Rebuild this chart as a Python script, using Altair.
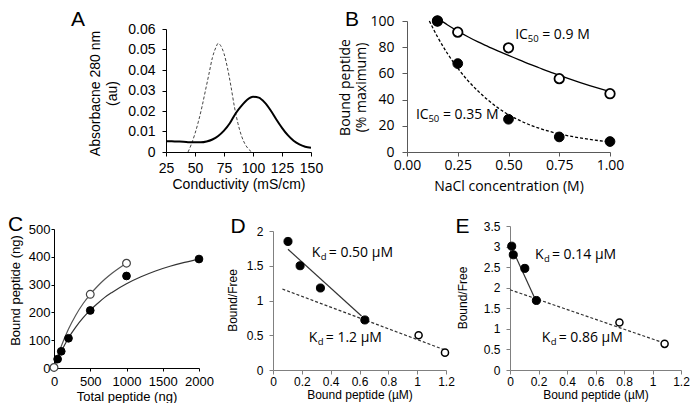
import altair as alt
import pandas as pd

# ---------------- data ----------------
# Panel A: chromatogram traces
a_dash_x = [44, 47, 50, 53, 56, 59, 62, 65, 68, 70, 72, 75, 78, 81, 84, 87, 90, 93, 96, 99]
a_dash_y = [0.0, 0.004, 0.009, 0.015, 0.022, 0.030, 0.038, 0.046, 0.051, 0.053, 0.052, 0.048,
            0.041, 0.032, 0.022, 0.014, 0.008, 0.004, 0.0015, 0.0]
a_sol_x = [25, 30, 35, 40, 45, 50, 55, 60, 65, 70, 75, 80, 85, 90, 95, 100, 105, 110, 115, 120,
           125, 130, 135, 140, 145, 150]
a_sol_y = [0.0053, 0.0052, 0.0051, 0.0050, 0.0048, 0.0047, 0.0047, 0.0051, 0.0061, 0.0078, 0.0104,
           0.0140, 0.0188, 0.0225, 0.0255, 0.0270, 0.0265, 0.0242, 0.0205, 0.0160, 0.0118, 0.0082,
           0.0055, 0.0037, 0.0026, 0.0021]
a_xticks = [25, 50, 75, 100, 125, 150]
a_yticks = [0, 0.01, 0.02, 0.03, 0.04, 0.05, 0.06]

# Panel B: NaCl competition
b_conc = [0.15, 0.25, 0.5, 0.75, 1.0]
b_open = [100, 91.5, 79.5, 56, 44.5]
b_filled = [100, 67.5, 25, 11.5, 8]
b_fo_x = [0.15, 0.2, 0.25, 0.3, 0.35, 0.4, 0.45, 0.5, 0.55, 0.6, 0.65, 0.7, 0.75, 0.8, 0.85, 0.9, 0.95, 1.0]
b_fo_y = [102, 97, 92.3, 88, 84, 80.5, 77, 73.8, 70.5, 67.3, 64.3, 61.3, 58.5, 55.8, 53.2, 50.7, 48.3, 46]
b_ff_x = [0.11, 0.15, 0.2, 0.25, 0.3, 0.35, 0.4, 0.45, 0.5, 0.55, 0.6, 0.65, 0.7, 0.75, 0.8, 0.85, 0.9, 0.95, 1.0]
b_ff_y = [100, 88, 75, 64, 54.5, 46.5, 39.5, 33.5, 28.5, 24.5, 21, 18.2, 15.8, 13.8, 12.2, 10.8, 9.6, 8.6, 7.8]
b_xticks = [0, 0.25, 0.5, 0.75, 1.0]
b_yticks = [0, 20, 40, 60, 80, 100]
b_ann_x = [0.533, 0.044]
b_ann_y = [89.3, 28.1]
b_ann_rest = ["= 0.9 M", "= 0.35 M"]

# Panel C: saturation binding
c_f_x = [50, 100, 200, 500, 1000, 2000]
c_f_y = [32, 60, 107, 207, 331, 392]
c_o_x = [0, 500, 1000]
c_o_y = [2, 265, 377]
c_fitf_x = [0, 50, 100, 200, 300, 400, 500, 600, 700, 800, 1000, 1200, 1400, 1600, 1800, 2000]
c_fitf_y = [0, 31, 59, 108, 147, 180, 208, 232, 254, 272, 303, 328, 349, 366, 380, 392]
c_fito_x = [0, 50, 100, 200, 300, 400, 500, 600, 700, 800, 900, 1000]
c_fito_y = [0, 42, 78, 140, 190, 231, 265, 294, 319, 341, 360, 377]
c_xticks = [0, 500, 1000, 1500, 2000]
c_yticks = [0, 100, 200, 300, 400, 500]

# Panel D: Scatchard
d_f_x = [0.104, 0.188, 0.329, 0.637]
d_f_y = [1.85, 1.50, 1.18, 0.72]
d_o_x = [1.01, 1.193]
d_o_y = [0.50, 0.25]
d_sol_x = [0.104, 0.614]
d_sol_y = [1.737, 0.777]
d_dash_x = [0.065, 1.193]
d_dash_y = [1.165, 0.288]
d_xticks = [0, 0.2, 0.4, 0.6, 0.8, 1.0, 1.2]
d_yticks = [0, 0.5, 1.0, 1.5, 2.0]
d_ann_x = [0.269, 0.248]
d_ann_y = [1.68, 0.46]
d_ann_rest = ["= 0.50 µM", "= 1.2 µM"]

# Panel E: Scatchard
e_f_x = [0.012, 0.023, 0.104, 0.185]
e_f_y = [3.01, 2.80, 2.47, 1.69]
e_o_x = [0.768, 1.085]
e_o_y = [1.156, 0.635]
e_sol_x = [0.012, 0.173]
e_sol_y = [2.97, 1.75]
e_dash_x = [0.0, 1.085]
e_dash_y = [1.95, 0.651]
e_xticks = [0, 0.2, 0.4, 0.6, 0.8, 1.0, 1.2]
e_yticks = [0, 0.5, 1.0, 1.5, 2.0, 2.5, 3.0, 3.5]
e_ann_x = [0.175, 0.222]
e_ann_y = [2.80, 0.77]
e_ann_rest = ["= 0.14 µM", "= 0.86 µM"]

ARIAL = "Liberation Sans"
SEGOE = "Open Sans"

# uniform grid of cells; each panel places its plot area inside its cell through scale ranges
W, H = 225, 195
G0X, G0Y = 8, 8


def geom(left, top, w, h, r, c):
    ox, oy = G0X + c * W, G0Y + r * H
    return dict(ox=ox, oy=oy, lx=left - ox, ty=top - oy, by=top - oy + h, w=w, h=h)


def df(x, y):
    return pd.DataFrame({"x": x, "y": y})


def xenc(g, domain, values, fmt, font, size, color, tick, lpad, title, tsize, ty):
    ax = alt.Axis(values=values, format=fmt, title=title, labelFont=font, labelFontSize=size,
                  labelColor="black", labelPadding=lpad, tickSize=tick, tickColor=color,
                  domainColor=color, grid=False, labelFlush=False, labelOverlap=False,
                  titleFont=font, titleFontSize=tsize, titleFontWeight="normal", titleColor="black",
                  titleX=g["lx"] + g["w"] / 2, titleY=ty, titleAlign="center", titleBaseline="top",
                  titleAngle=0, orient="bottom", offset=g["by"] - H)
    sc = alt.Scale(domain=domain, nice=False, zero=False, range=[g["lx"], g["lx"] + g["w"]])
    return alt.X("x:Q", scale=sc, axis=ax)


def yenc(g, domain, values, fmt, font, size, color, tick, lpad, title, tsize, tx, ty, lh=16):
    ax = alt.Axis(values=values, format=fmt, title=title, labelFont=font, labelFontSize=size,
                  labelColor="black", labelPadding=lpad, tickSize=tick, tickColor=color,
                  domainColor=color, grid=False, labelFlush=False, labelOverlap=False,
                  titleFont=font, titleFontSize=tsize, titleFontWeight="normal", titleColor="black",
                  titleX=tx, titleY=g["ty"] + ty, titleAlign="center", titleBaseline="bottom",
                  titleAngle=270, titleLineHeight=lh, orient="left", offset=-g["lx"])
    sc = alt.Scale(domain=domain, nice=False, zero=False, range=[g["by"], g["ty"]])
    return alt.Y("y:Q", scale=sc, axis=ax)


def plabel(t, g, page_x, page_y):
    return alt.Chart(pd.DataFrame({"t": [t]})).mark_text(
        align="left", baseline="top", font=ARIAL, fontSize=21, color="black"
    ).encode(x=alt.value(page_x - g["ox"]), y=alt.value(page_y - g["oy"]), text="t:N")


def anchor():
    return alt.Chart(pd.DataFrame({"v": [0]})).mark_rect(opacity=0).encode(
        x=alt.value(0), x2=alt.value(1), y=alt.value(0), y2=alt.value(1))


def ann(xs, ys, main, sub, rests, ex, ey, sub_dx, rest_dx, size=14, sub_size=9.5):
    base = pd.DataFrame({"x": xs, "y": ys, "m": [main] * len(xs), "s": [sub] * len(xs), "r": rests})
    common = dict(align="left", baseline="middle", font=SEGOE, color="black")
    l1 = alt.Chart(base).mark_text(fontSize=size, **common).encode(x=ex, y=ey, text="m:N")
    l2 = alt.Chart(base).mark_text(fontSize=sub_size, dx=sub_dx, dy=4, **common).encode(x=ex, y=ey, text="s:N")
    l3 = alt.Chart(base).mark_text(fontSize=size, dx=rest_dx, **common).encode(x=ex, y=ey, text="r:N")
    return [l1, l2, l3]


def filled_pts(x, y, ex, ey, size):
    return alt.Chart(df(x, y)).mark_point(shape="circle", filled=True, fill="black", stroke="black",
                                           strokeWidth=1, size=size, opacity=1).encode(x=ex, y=ey)


def open_pts(x, y, ex, ey, size, sw=1.5, stroke="black"):
    return alt.Chart(df(x, y)).mark_point(shape="circle", filled=True, fill="white", stroke=stroke,
                                           strokeWidth=sw, size=size, opacity=1).encode(x=ex, y=ey)


# ---------------- Panel A ----------------
gA = geom(166, 29, 145, 123, 0, 0)
axA = xenc(gA, [25, 150], a_xticks, "d", ARIAL, 14, "black", 4, 5, "Conductivity (mS/cm)", 14, 25)
ayA = yenc(gA, [0, 0.06], a_yticks, ".2~f", ARIAL, 14, "black", 4, 7,
           ["Absorbacne  280 nm", "(au)"], 14, -64, 64, 17)
panelA = alt.layer(
    anchor(),
    alt.Chart(df(a_dash_x, a_dash_y)).mark_line(color="#444444", strokeWidth=1, strokeDash=[3, 2],
                                                  interpolate="monotone").encode(x=axA, y=ayA),
    alt.Chart(df(a_sol_x, a_sol_y)).mark_line(color="black", strokeWidth=2,
                                                interpolate="monotone").encode(x=axA, y=ayA),
    plabel("A", gA, 71, 9),
).properties(width=W, height=H)

# ---------------- Panel B ----------------
gB = geom(407, 21, 203, 131, 0, 1)
axB = xenc(gB, [0, 1], b_xticks, ".2f", SEGOE, 14, "#595959", 4, 2, "NaCl concentration (M)", 14, 27)
ayB = yenc(gB, [0, 100], b_yticks, "d", SEGOE, 14, "#595959", 5, 8,
           ["Bound peptide", "(% maximum)"], 14, -55, 66, 16)
panelB = alt.layer(
    alt.Chart(df(b_fo_x, b_fo_y)).mark_line(color="black", strokeWidth=1.3,
                                              interpolate="monotone").encode(x=axB, y=ayB),
    alt.Chart(df(b_ff_x, b_ff_y)).mark_line(color="black", strokeWidth=1.3, strokeDash=[3, 2],
                                              interpolate="monotone").encode(x=axB, y=ayB),
    open_pts(b_conc, b_open, axB, ayB, 90, 1.8),
    filled_pts(b_conc, b_filled, axB, ayB, 95),
    *ann(b_ann_x, b_ann_y, "IC", "50", b_ann_rest, axB, ayB, 12.5, 27),
    plabel("B", gB, 345, 9),
).properties(width=W, height=H)

blank = alt.Chart(pd.DataFrame({"v": [0]})).mark_rect(opacity=0).encode(
    x=alt.value(0), x2=alt.value(1), y=alt.value(0), y2=alt.value(1)).properties(width=W, height=H)

# ---------------- Panel C ----------------
gC = geom(54, 229, 145, 139, 1, 0)
axC = xenc(gC, [0, 2000], c_xticks, "d", ARIAL, 13, "black", 3, 4, "Total peptide (ng)", 13, 22)
ayC = yenc(gC, [0, 500], c_yticks, "d", ARIAL, 13, "black", 3, 1, "Bound peptide (ng)", 13, -32, 61)
panelC = alt.layer(
    alt.Chart(df(c_fito_x, c_fito_y)).mark_line(color="#555555", strokeWidth=1.2,
                                                  interpolate="monotone").encode(x=axC, y=ayC),
    alt.Chart(df(c_fitf_x, c_fitf_y)).mark_line(color="#333333", strokeWidth=1.2,
                                                  interpolate="monotone").encode(x=axC, y=ayC),
    open_pts(c_o_x, c_o_y, axC, ayC, 60, 1.2, "#444444"),
    filled_pts(c_f_x, c_f_y, axC, ayC, 60),
    plabel("C", gC, 8, 213.5),
).properties(width=W, height=H)

# ---------------- Panel D ----------------
gD = geom(273, 231, 173, 139, 1, 1)
axD = xenc(gD, [0, 1.2], d_xticks, ".1~f", ARIAL, 12, "#808080", 4, 2, "Bound peptide (µM)", 12, 19)
ayD = yenc(gD, [0, 2], d_yticks, ".1~f", ARIAL, 12, "#808080", 4, 6, "Bound/Free", 12, -34, 69)
panelD = alt.layer(
    alt.Chart(df(d_sol_x, d_sol_y)).mark_line(color="#333333", strokeWidth=1.2).encode(x=axD, y=ayD),
    alt.Chart(df(d_dash_x, d_dash_y)).mark_line(color="#333333", strokeWidth=1.2,
                                                  strokeDash=[3, 2]).encode(x=axD, y=ayD),
    open_pts(d_o_x, d_o_y, axD, ayD, 50, 1.5),
    filled_pts(d_f_x, d_f_y, axD, ayD, 65),
    *ann(d_ann_x, d_ann_y, "K", "d", d_ann_rest, axD, ayD, 9, 17),
    plabel("D", gD, 230.5, 215.5),
).properties(width=W, height=H)

# ---------------- Panel E ----------------
gE = geom(510, 226, 171, 144, 1, 2)
axE = xenc(gE, [0, 1.2], e_xticks, ".1~f", ARIAL, 12, "#808080", 4, 2, "Bound peptide (µM)", 12, 19)
ayE = yenc(gE, [0, 3.5], e_yticks, ".1~f", ARIAL, 12, "#808080", 4, 6, "Bound/Free", 12, -41, 71.5)
panelE = alt.layer(
    alt.Chart(df(e_sol_x, e_sol_y)).mark_line(color="#333333", strokeWidth=1.2).encode(x=axE, y=ayE),
    alt.Chart(df(e_dash_x, e_dash_y)).mark_line(color="#333333", strokeWidth=1.2,
                                                  strokeDash=[3, 2]).encode(x=axE, y=ayE),
    open_pts(e_o_x, e_o_y, axE, ayE, 50, 1.5),
    filled_pts(e_f_x, e_f_y, axE, ayE, 65),
    *ann(e_ann_x, e_ann_y, "K", "d", e_ann_rest, axE, ayE, 9, 17),
    plabel("E", gE, 455.5, 215.5),
).properties(width=W, height=H)

chart = alt.concat(panelA, panelB, blank, panelC, panelD, panelE,
                   columns=3, spacing=0, bounds="flush", align="all").properties(
    padding=0
).configure_view(stroke=None)

chart.save("out.html", embed_options={"renderer": "svg", "actions": False})
